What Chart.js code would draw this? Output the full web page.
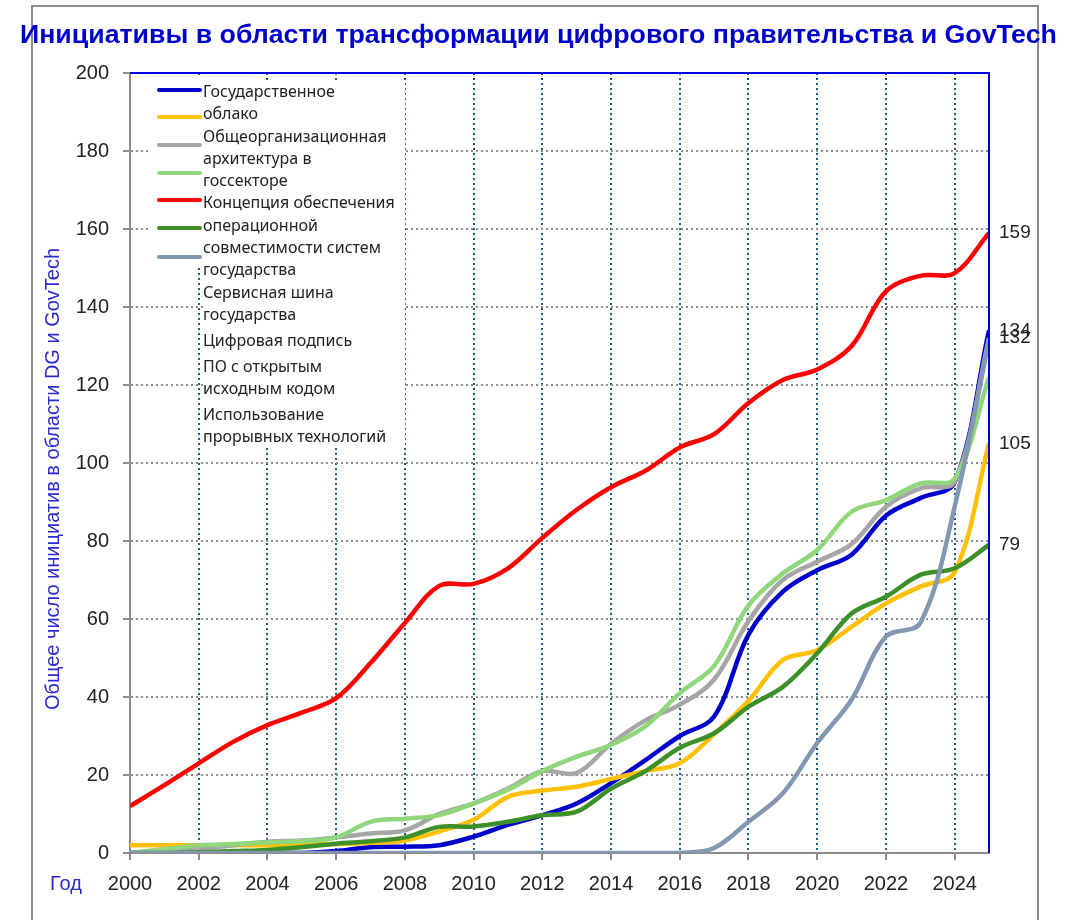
<!DOCTYPE html>
<html lang="ru">
<head>
<meta charset="utf-8">
<title>Инициативы GovTech</title>
<script src="https://cdn.jsdelivr.net/npm/chart.js@4.4.1/dist/chart.umd.min.js"></script>
<style>
  html, body { margin: 0; padding: 0; background: #fff; }
  #wrap { position: relative; width: 1084px; height: 920px; overflow: hidden; }
  #frame { position: absolute; left: 31px; top: 5px; width: 1004px; height: 1000px; border: 2px solid #8c8c8c; }
  #chart { position: absolute; left: 0; top: 0; }
  #title { position: absolute; top: 20px; left: 20px; white-space: nowrap; font: bold 25px "Liberation Sans", Arial, sans-serif; color: #0000cc; transform-origin: 0 0; }
  #legend-sw { position: absolute; left: 150px; top: 78px; width: 55px; height: 190px; background: #fff; }
  #legend-sw div { position: absolute; left: 7px; width: 45px; height: 4px; border-radius: 2px; }
  #legend-tx { position: absolute; left: 203px; top: 80px; width: 202px; height: 365px; background: #fff;
    font: 16px "Noto Sans", sans-serif; color: #222; line-height: 22.3px; white-space: pre-line; }
  #legend-tx div.gap { margin-top: 3.5px; }
</style>
</head>
<body>
<div id="wrap">
  <div id="frame"></div>
  <canvas id="chart" width="1084" height="920"></canvas>
  <div id="title">Инициативы в области трансформации цифрового правительства и GovTech</div>
  <div id="legend-sw"></div>
  <div id="legend-tx"></div>
</div>
<script>
const years = [2000, 2001, 2002, 2003, 2004, 2005, 2006, 2007, 2008, 2009, 2010, 2011, 2012,
               2013, 2014, 2015, 2016, 2017, 2018, 2019, 2020, 2021, 2022, 2023, 2024, 2025];

const names = [
    "Государственное\nоблако",
    "Общеорганизационная\nархитектура в\nгоссекторе",
    "Концепция обеспечения\nоперационной\nсовместимости систем\nгосударства",
    "Сервисная шина\nгосударства",
    "Цифровая подпись",
    "ПО с открытым\nисходным кодом",
    "Использование\nпрорывных технологий"
];

const colors = ["#0000cc", "#ffc000", "#a6a6a6", "#8fd77a", "#ff0000", "#3d8f2a", "#8497b0"];

const cloud     = [0, 0, 0, 0, 0, 0, 0.5, 1.5, 1.6, 2, 4.2, 7.2, 9.7, 12.7, 17.9, 23.8, 30, 35, 56, 67, 72.5, 76.5, 86.5, 91, 95, 134];
const archit    = [2, 2, 2, 2, 2, 2.2, 2.3, 2.6, 3.2, 5.5, 8.5, 14.4, 16, 17, 19, 21, 23, 30.5, 39, 49.5, 52, 58, 64, 68.3, 72, 105];
const interop   = [0, 0.3, 1, 2, 2.9, 3.2, 4, 5, 5.8, 10, 12.7, 16.5, 21, 20.5, 28, 34, 38, 44.5, 59.5, 70, 74.7, 79.2, 88.8, 93.5, 95.2, 132];
const bus       = [0, 1, 2, 2.3, 2.7, 3, 4, 8, 8.8, 9.7, 12.7, 16.2, 21, 24.7, 27.7, 32.5, 41, 48, 63.5, 71.7, 77.7, 87.5, 90.5, 94.8, 96, 122];
const signature = [12, 17.4, 23, 28.5, 32.8, 36, 39.7, 48.7, 59, 68.5, 69, 73, 80.8, 88, 93.8, 98, 104, 107.4, 115.4, 121.3, 124, 130, 144, 148, 148.7, 159];
const openSrc   = [0, 0, 0.2, 0.5, 0.8, 1.5, 2.4, 3, 4, 6.7, 6.8, 8, 9.7, 10.6, 16.5, 21, 27, 30.7, 37.5, 42.6, 51.2, 61.4, 65.7, 71.3, 73, 79];
const disrupt   = [0, 0, 0, 0, 0, 0, 0, 0, 0, 0, 0, 0, 0, 0, 0, 0, 0, 1.3, 8, 15.3, 28.2, 39.3, 55.5, 59, 88.8, 131.5];

const series = [cloud, archit, interop, bus, signature, openSrc, disrupt];
const endLabel = [true, true, true, false, true, true, false];

const yTicks = [0, 20, 40, 60, 80, 100, 120, 140, 160, 180, 200];

// legend (drawn as html, like the original: swatches and text are not aligned)
const sw = document.getElementById("legend-sw");
const swTop = [10, 37, 65, 93, 120, 148, 177];
colors.forEach((c, i) => {
    const d = document.createElement("div");
    d.style.background = c;
    d.style.top = swTop[i] + "px";
    sw.appendChild(d);
});
const tx = document.getElementById("legend-tx");
names.forEach((n, i) => {
    const d = document.createElement("div");
    d.textContent = n;
    if (i >= 4) d.className = "gap";
    tx.appendChild(d);
});

// stretch the title to the width it has in the original
const title = document.getElementById("title");
title.style.transform = "scaleX(" + (1037 / title.scrollWidth) + ")";

Chart.defaults.font.family = '"Liberation Sans", Arial, sans-serif';
Chart.defaults.color = "#222";

const extras = {
    id: "extras",
    afterDatasetsDraw(chart) {
        const { ctx, chartArea: a, scales: { y } } = chart;
        ctx.save();
        ctx.strokeStyle = "#0000dd";
        ctx.lineWidth = 2;
        ctx.beginPath();
        ctx.moveTo(a.left, a.top);
        ctx.lineTo(a.right, a.top);
        ctx.lineTo(a.right, a.bottom);
        ctx.stroke();

        ctx.font = '19px "Liberation Sans", Arial';
        ctx.fillStyle = "#222";
        ctx.textBaseline = "middle";
        ctx.textAlign = "left";
        series.forEach((s, i) => {
            if (!endLabel[i]) return;
            const v = s[s.length - 1];
            ctx.fillText(String(Math.round(v)), a.right + 10, y.getPixelForValue(v));
        });

        ctx.fillStyle = "#2a2ad0";
        ctx.font = '20px "Liberation Sans", Arial';
        ctx.fillText("Год", 50, 884);

        ctx.translate(53, 479);
        ctx.rotate(-Math.PI / 2);
        ctx.textAlign = "center";
        ctx.font = '20px "Liberation Sans", Arial';
        ctx.fillText("Общее число инициатив в области DG и GovTech", 0, 0);
        ctx.restore();
    }
};

new Chart(document.getElementById("chart"), {
    type: "line",
    data: {
        labels: years,
        datasets: series.map((s, i) => ({
            label: names[i].replace(/\n/g, " "),
            data: s.map((v, k) => ({ x: years[k], y: v })),
            borderColor: colors[i],
            borderWidth: 4.5,
            pointRadius: 0,
            tension: 0.35,
            fill: false,
            order: series.length - i,
        })),
    },
    options: {
        responsive: false,
        animation: false,
        layout: { padding: { top: 73, right: 95, left: 0, bottom: 0 } },
        plugins: {
            legend: { display: false },
            tooltip: { enabled: false },
        },
        scales: {
            x: {
                type: "linear",
                min: 2000,
                max: 2025,
                afterFit: (s) => { s.height = 67; },
                ticks: {
                    stepSize: 2,
                    includeBounds: false,
                    autoSkip: false,
                    maxRotation: 0,
                    padding: 12,
                    font: { size: 20 },
                    color: "#222",
                    callback: (v) => String(v),
                },
                grid: {
                    color: (c) => (c.tick && c.tick.value > 2000 ? "#1f5f80" : "transparent"),
                    lineWidth: 2,
                    tickColor: "#8c8c8c",
                    tickLength: 7,
                    tickWidth: 2,
                },
                border: { color: "#8c8c8c", width: 2, dash: [2, 3] },
            },
            y: {
                min: 0,
                max: 200,
                afterFit: (s) => { s.width = 130; },
                afterBuildTicks: (s) => { s.ticks = yTicks.map((v) => ({ value: v })); },
                ticks: {
                    padding: 14,
                    font: { size: 20 },
                    color: "#222",
                },
                grid: {
                    color: (c) => (c.tick && c.tick.value > 0 && c.tick.value < 200 ? "#8c8c8c" : "transparent"),
                    lineWidth: 2,
                    tickColor: "#8c8c8c",
                    tickLength: 7,
                    tickWidth: 2,
                },
                border: { color: "#8c8c8c", width: 2, dash: [2, 3] },
            },
        },
    },
    plugins: [extras],
});
</script>
</body>
</html>
